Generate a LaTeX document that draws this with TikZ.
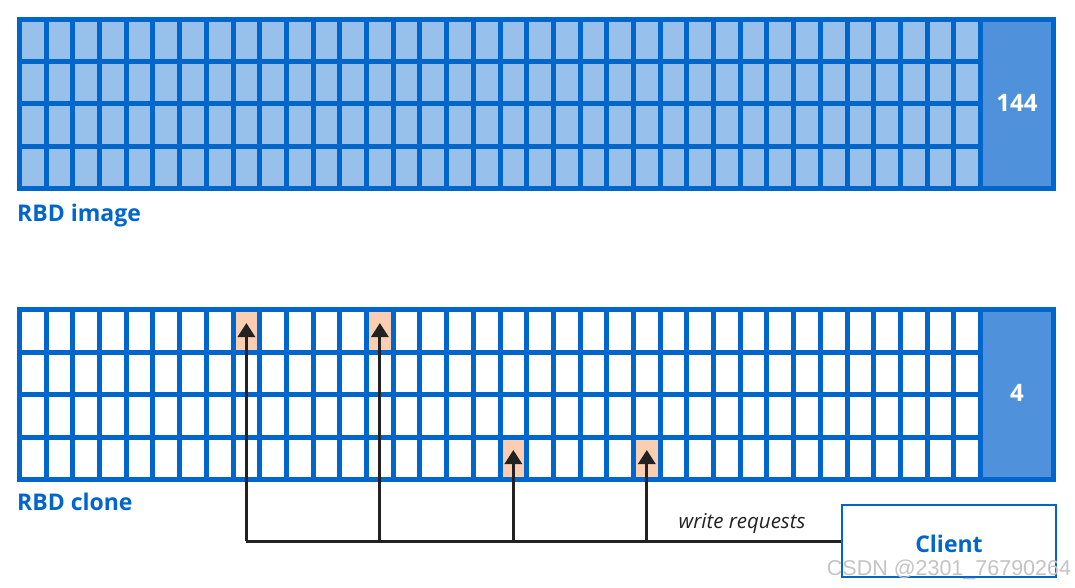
\documentclass[tikz,border=0pt]{standalone}
\usepackage{fontspec}
\setmainfont{Open Sans}
\newfontfamily\wmfont{Liberation Sans}
\usetikzlibrary{arrows.meta}
\definecolor{rbdblue}{HTML}{0066CC}
\definecolor{celllight}{HTML}{97C0EB}
\definecolor{boxmid}{HTML}{4F92DB}
\definecolor{hl}{HTML}{FBCEB1}
\definecolor{ink}{HTML}{222222}
\definecolor{wm}{HTML}{C4C4C4}
\begin{document}
\begin{tikzpicture}[x=1pt,y=-1pt,
  gridline/.style={rbdblue,line width=5pt},
  lbl/.style={font=\fontsize{23}{26}\selectfont\bfseries,text=rbdblue,inner sep=0pt,anchor=base west},
  numtext/.style={font=\fontsize{24}{27}\selectfont\bfseries,text=white,inner sep=0pt},
  clientbox/.style={draw=rbdblue,line width=2.2pt,fill=white,minimum width=214pt,minimum height=72pt,inner sep=0pt},
  clienttext/.style={font=\fontsize{23}{26}\selectfont\bfseries,text=rbdblue,inner sep=0pt},
  wire/.style={ink,line width=3pt},
  arr/.style={wire,-{Triangle[width=17pt,length=14pt]}}]
\useasboundingbox (0,0) rectangle (1075,588);
\def\pw{26.694}
% ---------- top grid (RBD image) ----------
\fill[celllight] (19.5,19.5) rectangle (980.5,188.5);
\fill[boxmid] (980.5,19.5) rectangle (1053.5,188.5);
\foreach \i in {1,...,35} \draw[gridline] ({19.5+\i*\pw},19.5) -- ++(0,169);
\foreach \j in {1,2,3} \draw[gridline] (19.5,{19.5+\j*42.25}) -- (980.5,{19.5+\j*42.25});
\draw[gridline] (980.5,19.5) -- (980.5,188.5);
\draw[gridline] (19.5,19.5) rectangle (1053.5,188.5);
\node[numtext] (n144) at (1017,103) {144};
\node[lbl] (limg) at (17,221) {RBD image};
% ---------- bottom grid (RBD clone) ----------
\foreach \c/\r in {8/0,13/0,18/3,23/3}
  \fill[hl] ({19.5+\c*\pw},{309.5+\r*42.5}) rectangle ++(\pw,42.5);
\foreach \i in {1,...,35} \draw[gridline] ({19.5+\i*\pw},309.5) -- ++(0,170);
\foreach \j in {1,2,3} \draw[gridline] (19.5,{309.5+\j*42.5}) -- (980.5,{309.5+\j*42.5});
\fill[boxmid] (980.5,309.5) rectangle (1053.5,479.5);
\draw[gridline] (980.5,309.5) -- (980.5,479.5);
\draw[gridline] (19.5,309.5) rectangle (1053.5,479.5);
\node[numtext] (n4) at (1017,393) {4};
\node[lbl] (lclone) at (17,510) {RBD clone};
% targets of the write requests
\coordinate (h1) at ({19.5+8.5*\pw},323);
\coordinate (h2) at ({19.5+13.5*\pw},323);
\coordinate (h3) at ({19.5+18.5*\pw},450);
\coordinate (h4) at ({19.5+23.5*\pw},450);
% ---------- client ----------
\node[clientbox] (client) at (949,541) {};
\node[clienttext] (clientlbl) at (949,544) {Client};
\draw[wire] (client.west) -- (h1 |- client.west);
\draw[arr] (h1 |- client.west) -- (h1);
\draw[arr] (h2 |- client.west) -- (h2);
\draw[arr] (h3 |- client.west) -- (h3);
\draw[arr] (h4 |- client.west) -- (h4);
\node[font=\fontsize{20.5}{22}\selectfont\itshape,text=ink,inner sep=0pt,anchor=base] (wr) at (742,528) {write requests};
\node[font=\wmfont\fontsize{21.5}{23}\selectfont,text=wm,inner sep=0pt] (wmk) at (949,570) {CSDN @2301\_76790264};
\end{tikzpicture}
\end{document}
